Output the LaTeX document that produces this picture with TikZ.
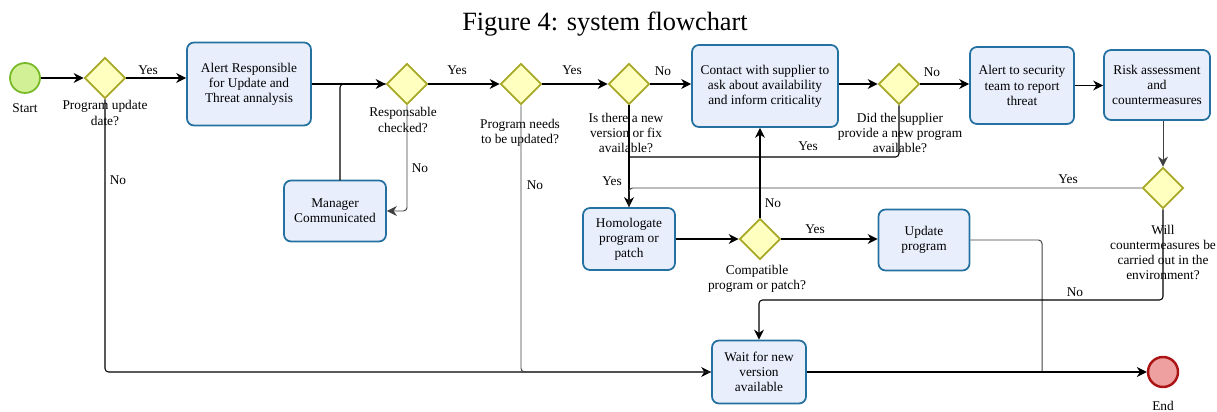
\documentclass[tikz,border=0pt]{standalone}
\usepackage{fontspec}
\setmainfont{Liberation Serif}
\usetikzlibrary{shapes,arrows.meta,positioning,calc}
\definecolor{taskfill}{RGB}{232,238,252}
\definecolor{taskdraw}{RGB}{36,112,160}
\definecolor{gatefill}{RGB}{255,255,192}
\definecolor{gatedraw}{RGB}{168,168,40}
\definecolor{startfill}{RGB}{210,240,150}
\definecolor{startdraw}{RGB}{120,185,40}
\definecolor{endfill}{RGB}{238,160,160}
\definecolor{enddraw}{RGB}{170,20,20}

\begin{document}
\begin{tikzpicture}[
        font=\fontsize{7.6}{8.6}\selectfont,
        task/.style={rectangle, rounded corners=4pt, draw=taskdraw, fill=taskfill, line width=1pt, align=center},
        gate/.style={diamond, draw=gatedraw, fill=gatefill, line width=1pt, minimum size=0.82cm, inner sep=0pt},
        event/.style={circle, minimum size=0.6cm, inner sep=0pt},
        note/.style={align=center, inner sep=0pt},
        flow/.style={line width=0.6pt, rounded corners=2pt},
        greyflow/.style={flow, line width=0.55pt, draw=black!75},
        arrow/.style={flow, -{Stealth[length=2mm, width=2mm]}}
    ]
        \useasboundingbox (0,0) rectangle (24.34,-8.24);

        % Title
        \node[font=\fontsize{15}{17}\selectfont] (title) at (12.1,-0.48) {Figure 4: system flowchart};

        % Events
        \node[event, fill=startfill, draw=startdraw, line width=1pt] (start) at (0.5,-1.56) {};
        \node[note] (startlab) at (0.5,-2.16) {Start};
        \node[event, fill=endfill, draw=enddraw, line width=1.4pt] (end) at (23.26,-7.44) {};
        \node[note] (endlab) at (23.26,-8.12) {End};

        % Gateways
        \node[gate] (d1) at (2.1,-1.56) {};
        \node[gate] (d2) at (8.14,-1.68) {};
        \node[gate] (d3) at (10.42,-1.68) {};
        \node[gate] (d4) at (12.58,-1.68) {};
        \node[gate] (d5) at (17.98,-1.68) {};
        \node[gate] (d6) at (23.26,-3.76) {};
        \node[gate] (d7) at (15.2,-4.78) {};

        % Gateway labels
        \node[note] (d1lab) at (2.1,-2.26) {Program update\\date?};
        \node[note] (d2lab) at (8.06,-2.40) {Responsable\\checked?};
        \node[note] (d3lab) at (10.40,-2.66) {Program needs\\to be updated?};
        \node[note] (d4lab) at (12.52,-2.66) {Is there a new\\version or fix\\available?};
        \node[note] (d5lab) at (18.0,-2.66) {Did the supplier\\provide a new program\\available?};
        \node[note] (d6lab) at (23.26,-5.05) {Will\\countermeasures be\\carried out in the\\environment?};
        \node[note] (d7lab) at (15.14,-5.58) {Compatible\\program or patch?};

        % Tasks
        \node[task, minimum width=2.48cm, minimum height=1.66cm] (alert) at (4.98,-1.68) {Alert Responsible\\for Update and\\Threat annalysis};
        \node[task, minimum width=2.04cm, minimum height=1.22cm] (manager) at (6.70,-4.22) {Manager\\Communicated};
        \node[task, minimum width=2.92cm, minimum height=1.64cm] (contact) at (15.30,-1.72) {Contact with supplier to\\ask about availability\\and inform criticality};
        \node[task, minimum width=2.08cm, minimum height=1.54cm] (security) at (20.44,-1.71) {Alert to security\\team to report\\threat};
        \node[task, minimum width=2.12cm, minimum height=1.40cm] (risk) at (23.14,-1.70) {Risk assessment\\and\\countermeasures};
        \node[task, minimum width=1.84cm, minimum height=1.24cm] (homol) at (12.58,-4.78) {Homologate\\program or\\patch};
        \node[task, minimum width=1.82cm, minimum height=1.22cm] (update) at (18.48,-4.80) {Update\\program};
        \node[task, minimum width=1.88cm, minimum height=1.26cm] (wait) at (15.18,-7.44) {Wait for new\\version\\available};

        % Junctions
        \coordinate (j1) at (12.58,-3.14);
        \coordinate (j2) at (20.84,-7.44);
        \coordinate (j3) at (15.18,-6.0);
        \coordinate (j4) at (6.80,-3.61);

        % Main flow
        \draw[arrow] (start) -- (d1);
        \draw[arrow] (d1.east) -- (alert.west |- d1);
        \draw[arrow] (alert.east |- d2) -- (d2.west);
        \draw[arrow] (d2) -- (d3);
        \draw[arrow] (d3) -- (d4);
        \draw[arrow] (d4.east) -- (d4 -| contact.west);
        \draw[arrow] (contact.east |- d5) -- (d5.west);
        \draw[arrow] (d5.east) -- (d5 -| security.west);
        \draw[arrow] (security.east) -- (security -| risk.west);
        \draw[arrow, greyflow] (d6 |- risk.south) -- (d6.north);

        % Branches
        \draw[arrow, greyflow] (d2.south) |- (manager.east);
        \draw[flow] (j4) |- (d2.west);
        \draw[arrow] (d1.south) |- (wait.west);
        \draw[greyflow] (d3.south) |- (wait.west);
        \draw[arrow] (d4.south) -- (homol.north);
        \draw[flow] (d5.south) |- (j1);
        \draw[greyflow] (d6.west) -| (homol.north);
        \draw[arrow] (homol.east) -- (homol -| d7.west);
        \draw[arrow] (d7.north) -- (d7 |- contact.south);
        \draw[arrow] (d7.east) -- (d7 -| update.west);
        \draw[greyflow] (update.east) -| (j2);
        \draw[arrow] (d6.south) |- (j3) -- (wait.north);
        \draw[arrow] (wait.east) -- (end.west);

        % Edge labels
        \node[note] (l1) at (2.96,-1.40) {Yes};
        \node[note] (l2) at (2.36,-3.60) {No};
        \node[note] (l3) at (9.14,-1.40) {Yes};
        \node[note] (l4) at (8.40,-3.36) {No};
        \node[note] (l5) at (11.44,-1.40) {Yes};
        \node[note] (l6) at (10.70,-3.70) {No};
        \node[note] (l7) at (13.26,-1.42) {No};
        \node[note] (l8) at (18.64,-1.44) {No};
        \node[note] (l9) at (16.16,-2.92) {Yes};
        \node[note] (l10) at (12.24,-3.62) {Yes};
        \node[note] (l11) at (21.36,-3.58) {Yes};
        \node[note] (l12) at (15.46,-4.06) {No};
        \node[note] (l13) at (16.30,-4.58) {Yes};
        \node[note] (l14) at (21.50,-5.84) {No};

    \end{tikzpicture}
\end{document}
